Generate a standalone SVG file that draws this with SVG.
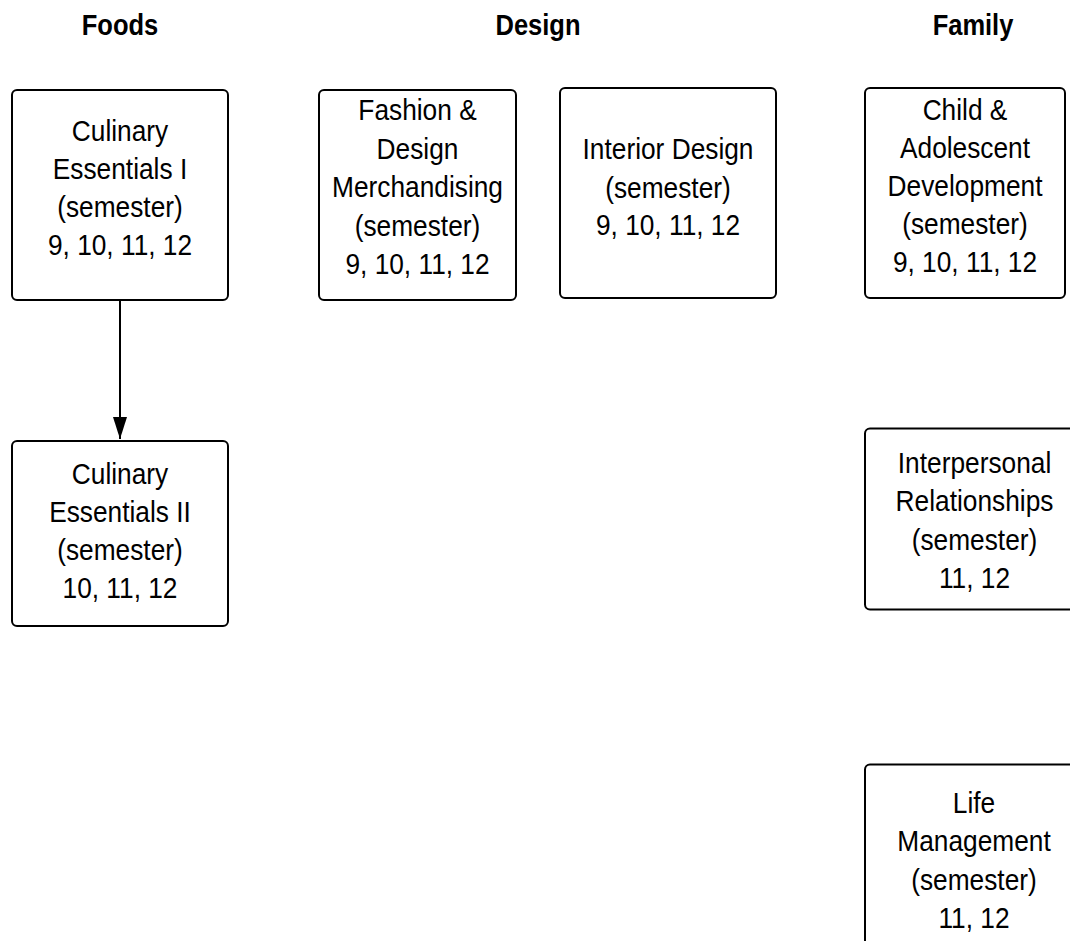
<svg xmlns="http://www.w3.org/2000/svg" width="1070" height="941" viewBox="0 0 1070 941">
<style>
.box{fill:#fff;stroke:#000;stroke-width:2}
.t{font-family:"Liberation Sans",Arial,sans-serif;font-size:26.3px;fill:#000;text-anchor:middle}
.h{font-family:"Liberation Sans",Arial,sans-serif;font-size:25.5px;font-weight:bold;fill:#000;text-anchor:middle}
.edge{stroke:#000;stroke-width:2;fill:none}
</style>
<defs>
<marker id="arr" markerUnits="userSpaceOnUse" markerWidth="22" markerHeight="14" refX="22" refY="7" viewBox="0 0 22 14" orient="auto">
<path d="M0,0 L22,7 L0,14 Z" fill="#000"/>
</marker>
</defs>
<rect width="1070" height="941" fill="#fff"/>
<g id="headers">
<text class="h" transform="translate(120 34.8) scale(1 1.14)">Foods</text>
<text class="h" transform="translate(538 34.8) scale(1 1.14)">Design</text>
<text class="h" transform="translate(973 34.8) scale(1 1.14)">Family</text>
</g>
<g id="connectors">
<line class="edge" x1="120" y1="300" x2="120" y2="439" marker-end="url(#arr)"/>
</g>
<g id="culinary1">
<rect class="box" x="12" y="90" width="216" height="210" rx="5"/>
<text class="t" transform="translate(120 141) scale(1 1.12)">Culinary</text>
<text class="t" transform="translate(120 179) scale(1 1.12)">Essentials I</text>
<text class="t" transform="translate(120 217) scale(1 1.12)">(semester)</text>
<text class="t" transform="translate(120 255.3) scale(1 1.12)">9, 10, 11, 12</text>
</g>
<g id="culinary2">
<rect class="box" x="12" y="441" width="216" height="185" rx="5"/>
<text class="t" transform="translate(120 484) scale(1 1.12)">Culinary</text>
<text class="t" transform="translate(120 522) scale(1 1.12)">Essentials II</text>
<text class="t" transform="translate(120 560) scale(1 1.12)">(semester)</text>
<text class="t" transform="translate(120 598) scale(1 1.12)">10, 11, 12</text>
</g>
<g id="fashion">
<rect class="box" x="319" y="90" width="197" height="210" rx="5"/>
<text class="t" transform="translate(417.5 120) scale(1 1.12)">Fashion &amp;</text>
<text class="t" transform="translate(417.5 158.5) scale(1 1.12)">Design</text>
<text class="t" transform="translate(417.5 197) scale(1 1.12)">Merchandising</text>
<text class="t" transform="translate(417.5 235.5) scale(1 1.12)">(semester)</text>
<text class="t" transform="translate(417.5 274) scale(1 1.12)">9, 10, 11, 12</text>
</g>
<g id="interior">
<rect class="box" x="560" y="88" width="216" height="210" rx="5"/>
<text class="t" transform="translate(668 159) scale(1 1.12)">Interior Design</text>
<text class="t" transform="translate(668 197.5) scale(1 1.12)">(semester)</text>
<text class="t" transform="translate(668 235) scale(1 1.12)">9, 10, 11, 12</text>
</g>
<g id="child">
<rect class="box" x="865" y="88" width="200" height="210" rx="5"/>
<text class="t" transform="translate(965 120) scale(1 1.12)">Child &amp;</text>
<text class="t" transform="translate(965 158) scale(1 1.12)">Adolescent</text>
<text class="t" transform="translate(965 196) scale(1 1.12)">Development</text>
<text class="t" transform="translate(965 234) scale(1 1.12)">(semester)</text>
<text class="t" transform="translate(965 272) scale(1 1.12)">9, 10, 11, 12</text>
</g>
<g id="interpersonal">
<rect class="box" x="865" y="428.5" width="220" height="181" rx="5"/>
<text class="t" transform="translate(974.5 472.5) scale(1 1.12)">Interpersonal</text>
<text class="t" transform="translate(974.5 511) scale(1 1.12)">Relationships</text>
<text class="t" transform="translate(974.5 549.5) scale(1 1.12)">(semester)</text>
<text class="t" transform="translate(974.5 587.5) scale(1 1.12)">11, 12</text>
</g>
<g id="life">
<rect class="box" x="865" y="764.5" width="220" height="200" rx="5"/>
<text class="t" transform="translate(974 812.5) scale(1 1.12)">Life</text>
<text class="t" transform="translate(974 851) scale(1 1.12)">Management</text>
<text class="t" transform="translate(974 889.5) scale(1 1.12)">(semester)</text>
<text class="t" transform="translate(974 927.5) scale(1 1.12)">11, 12</text>
</g>
</svg>
